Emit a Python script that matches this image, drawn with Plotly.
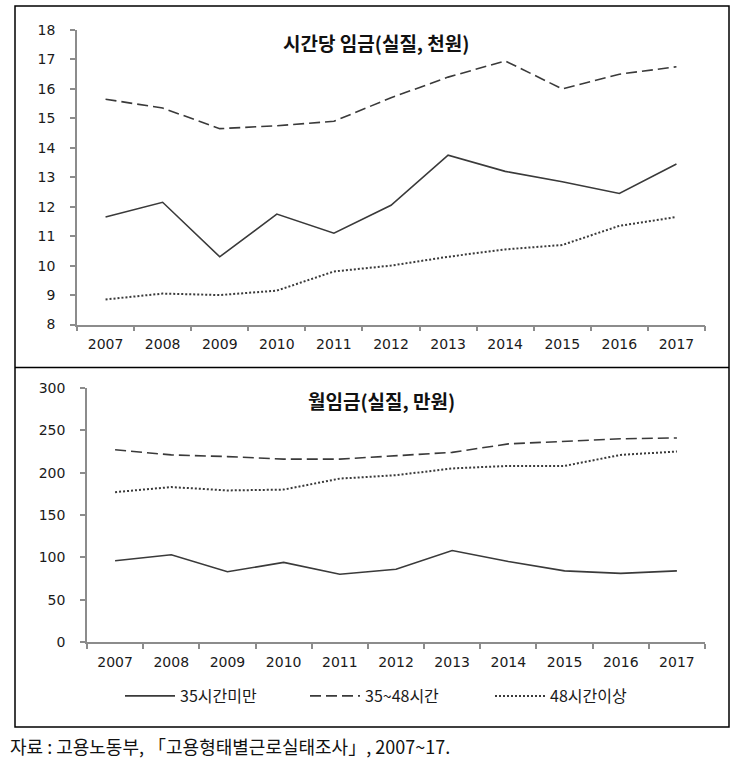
import plotly.graph_objects as go

years = ["2007", "2008", "2009", "2010", "2011", "2012", "2013", "2014", "2015", "2016", "2017"]
series_names = ["35시간미만", "35~48시간", "48시간이상"]

hourly_under35 = [11.65, 12.15, 10.3, 11.75, 11.1, 12.05, 13.75, 13.2, 12.85, 12.45, 13.45]
hourly_35_48 = [15.65, 15.35, 14.65, 14.75, 14.9, 15.7, 16.4, 16.95, 16.0, 16.5, 16.75]
hourly_over48 = [8.85, 9.05, 9.0, 9.15, 9.8, 10.0, 10.3, 10.55, 10.7, 11.35, 11.65]

monthly_under35 = [96, 103, 83, 94, 80, 86, 108, 95, 84, 81, 84]
monthly_35_48 = [227, 221, 219, 216, 216, 220, 224, 234, 237, 240, 241]
monthly_over48 = [177, 183, 179, 180, 193, 197, 205, 208, 208, 221, 225]

top_title = "시간당 임금(실질, 천원)"
bottom_title = "월임금(실질, 만원)"
caption = "자료 : 고용노동부, 「고용형태별근로실태조사」, 2007~17."

W, H = 743, 768
def px(x):
    return x / W
def py(y):
    return 1 - y / H

styles = [
    dict(color="#3a3a3a", width=1.6, dash="solid"),
    dict(color="#3a3a3a", width=1.6, dash="11px,5px"),
    dict(color="#3a3a3a", width=2, dash="2px,2px"),
]

fig = go.Figure()
top_data = [hourly_under35, hourly_35_48, hourly_over48]
bot_data = [monthly_under35, monthly_35_48, monthly_over48]
for i, (name, vals) in enumerate(zip(series_names, top_data)):
    fig.add_trace(go.Scatter(x=years, y=vals, mode="lines", name=name,
                             line=styles[i], xaxis="x", yaxis="y", showlegend=False))
for i, (name, vals) in enumerate(zip(series_names, bot_data)):
    fig.add_trace(go.Scatter(x=years, y=vals, mode="lines", name=name,
                             line=styles[i], xaxis="x2", yaxis="y2", showlegend=True))

axis_common = dict(showgrid=False, zeroline=False, showline=True, linecolor="#8c8c8c",
                   linewidth=1.5, ticks="outside", ticklen=5, tickcolor="#8c8c8c", tickwidth=1.5,
                   automargin=False,
                   tickfont=dict(family="DejaVu Sans", size=14, color="#1a1a1a"))

fig.update_layout(
    width=W, height=H, autosize=False,
    margin=dict(l=0, r=0, t=0, b=0, pad=0),
    paper_bgcolor="white", plot_bgcolor="white",
    xaxis=dict(domain=[px(77), px(705)], anchor="y", type="category",
               range=[-0.5, 10.5], tickson="boundaries", ticklabelstandoff=6, **axis_common),
    yaxis=dict(domain=[py(324.5), py(30)], anchor="x", range=[8, 18], dtick=1,
               ticklabelstandoff=12, **axis_common),
    xaxis2=dict(domain=[px(87), px(705)], anchor="y2", type="category",
                range=[-0.5, 10.5], tickson="boundaries", ticklabelstandoff=6, **axis_common),
    yaxis2=dict(domain=[py(642), py(388)], anchor="x2", range=[0, 300], dtick=50,
                ticklabelstandoff=12, **axis_common),
    legend=dict(orientation="h", x=px(120), xanchor="left", y=py(696), yanchor="middle",
                font=dict(family="Noto Sans CJK KR", size=16, color="#1a1a1a"),
                itemwidth=50, entrywidth=120, entrywidthmode="pixels", bgcolor="rgba(0,0,0,0)"),
    shapes=[
        dict(type="rect", xref="paper", yref="paper", x0=px(15), x1=px(729), y0=py(727), y1=py(6),
             line=dict(color="black", width=1.5)),
        dict(type="line", xref="paper", yref="paper", x0=px(15), x1=px(729), y0=py(367.5), y1=py(367.5),
             line=dict(color="black", width=1.5)),
    ],
    annotations=[
        dict(text="<b>" + top_title + "</b>", xref="paper", yref="paper", x=px(376), y=py(42),
             xanchor="center", yanchor="middle", showarrow=False,
             font=dict(family="Noto Sans CJK KR", size=19, color="#111111")),
        dict(text="<b>" + bottom_title + "</b>", xref="paper", yref="paper", x=px(381), y=py(400),
             xanchor="center", yanchor="middle", showarrow=False,
             font=dict(family="Noto Sans CJK KR", size=19, color="#111111")),
        dict(text=caption, xref="paper", yref="paper", x=px(8), y=py(746),
             xanchor="left", yanchor="middle", showarrow=False,
             font=dict(family="Noto Sans CJK KR", size=18, color="#111111")),
    ],
)

fig.write_html("out.html", config={"displayModeBar": False},
               post_script="document.body.style.margin='0';document.body.style.overflow='hidden';")
